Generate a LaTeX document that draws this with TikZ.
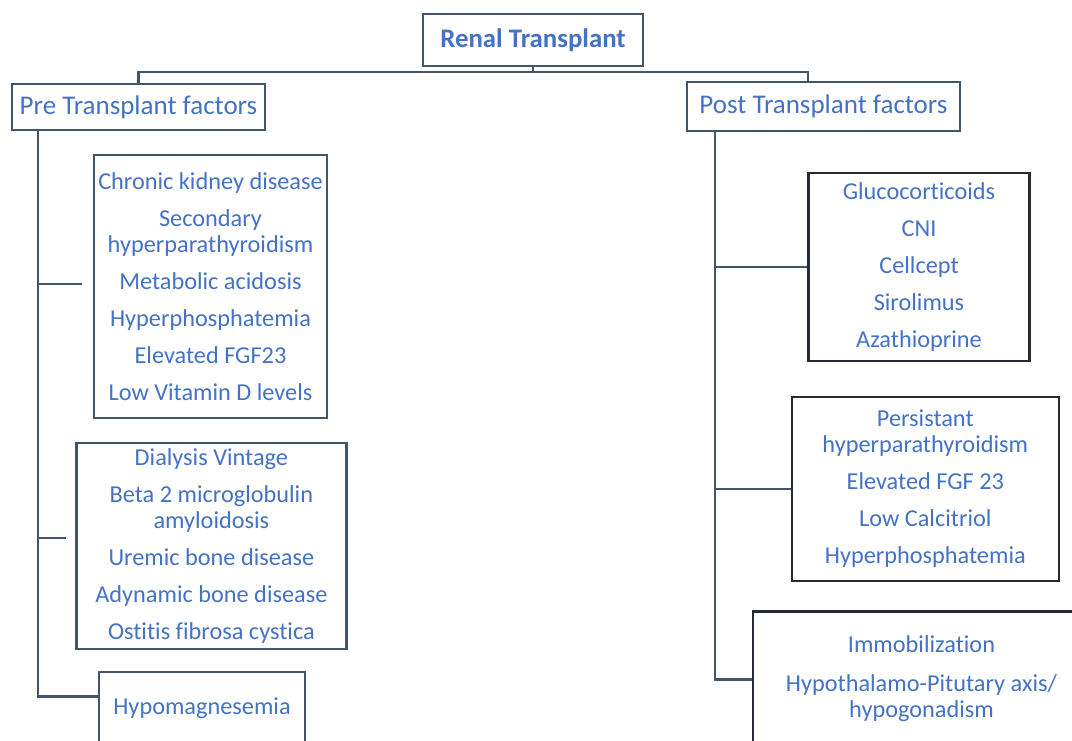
\documentclass[tikz,border=0pt]{standalone}
\usepackage{fontspec}
\setmainfont[Ligatures=NoCommon]{Carlito}
\definecolor{txt}{HTML}{4472C4}
\definecolor{ln}{HTML}{44546A}
\definecolor{dk}{HTML}{262B33}
\begin{document}
\begin{tikzpicture}[x=1pt,y=-1pt,
  box/.style={draw=ln, line width=2.6pt, text=txt, align=center, inner sep=0pt, fill=white,
    font=\fontsize{24.3}{26}\selectfont},
  dbox/.style={box, draw=dk},
  head/.style={box, font=\fontsize{27}{30}\selectfont},
  conn/.style={draw=ln, line width=2.6pt}]
\clip (0,0) rectangle (1072,740);
\fill[white] (0,0) rectangle (1072,740);

% headers
\node[head, font=\bfseries\fontsize{26.8}{30}\selectfont, minimum width=220pt, minimum height=52pt] (root) at (533,40) {Renal Transplant};
\node[head, minimum width=253pt, minimum height=46pt] (pre) at (138.5,107) {Pre Transplant factors};
\node[head, minimum width=273pt, minimum height=49pt] (post) at (823.5,106.5) {Post Transplant factors};

% left boxes
\node[box, minimum width=233pt, minimum height=263pt] (a) at (210.5,286.5)
  {Chronic kidney disease\\[11pt] Secondary\\ hyperparathyroidism\\[11pt] Metabolic acidosis\\[11pt] Hyperphosphatemia\\[11pt] Elevated FGF23\\[11pt] Low Vitamin D levels};
\node[box, minimum width=270pt, minimum height=206pt] (b) at (211.4,546)
  {Dialysis Vintage\\[11pt] Beta 2 microglobulin\\ amyloidosis\\[11pt] Uremic bone disease\\[11pt] Adynamic bone disease\\[11pt] Ostitis fibrosa cystica};
\node[box, anchor=north, minimum width=206pt, minimum height=72pt] (c) at (202,670.5) {Hypomagnesemia};

% right boxes
\node[dbox, minimum width=220.5pt, minimum height=188pt] (d) at (919,267)
  {Glucocorticoids\\[11pt] CNI\\[11pt] Cellcept\\[11pt] Sirolimus\\[11pt] Azathioprine};
\node[dbox, minimum width=267pt, minimum height=184pt] (e) at (925.3,489)
  {Persistant\\ hyperparathyroidism\\[11pt] Elevated FGF 23\\[11pt] Low Calcitriol\\[11pt] Hyperphosphatemia};
\node[dbox, anchor=north, minimum width=337pt, minimum height=135pt] (f) at (921.5,610)
  {Immobilization\\[13pt] Hypothalamo-Pitutary axis/\\ hypogonadism};

% connectors
\coordinate (pt) at ([xshift=-15.5pt]post.north);
\draw[conn, line width=2.2pt] (root.south) -- ++(0,5) -| (pre.north);
\draw[conn, line width=2.2pt] (root.south) -- ++(0,5) -| (pt);

\coordinate (ls) at ([xshift=-100.5pt]pre.south);
\draw[conn, shorten >=11pt] (ls) |- ([yshift=2.5pt]a.west);
\draw[conn, shorten >=9pt] (ls) |- ([yshift=8pt]b.west);
\draw[conn] (ls) |- ([yshift=11.5pt]c.west);

\coordinate (rs) at ([xshift=-108.5pt]post.south);
\draw[conn] (rs) |- (d.west);
\draw[conn] (rs) |- (e.west);
\draw[conn] (rs) |- ([yshift=-0.5pt]f.west);
\end{tikzpicture}
\end{document}
